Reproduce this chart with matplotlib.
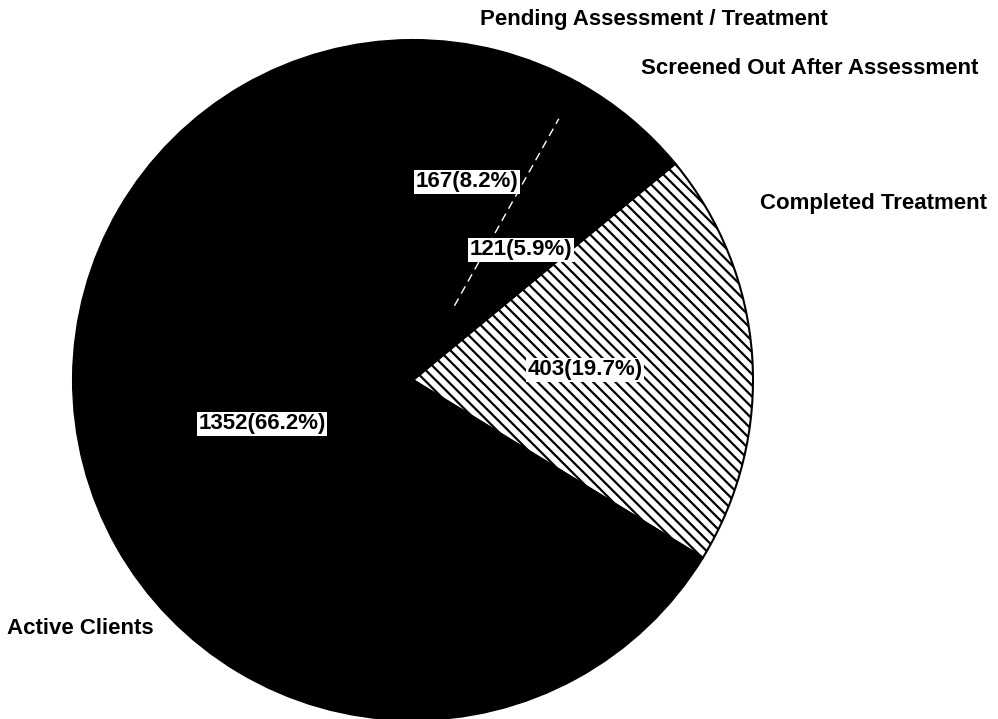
import matplotlib

matplotlib.use("Agg")
import matplotlib.pyplot as plt
import numpy as np

# slice order: counter-clockwise from the lower edge of "Completed Treatment"
categories = ["Completed Treatment", "Screened Out After Assessment",
              "Pending Assessment / Treatment", "Active Clients"]
counts = [403, 121, 167, 1352]
pcts = [19.7, 5.9, 8.2, 66.2]

W, H = 998, 719
BS = chr(92)  # backslash, for the hatch pattern


def fx(px):
    return px / W


def fy(py):
    return 1 - py / H


plt.rcParams["hatch.linewidth"] = 1.6
plt.rcParams["font.family"] = ["Liberation Sans", "DejaVu Sans"]

fig = plt.figure(figsize=(W / 100, H / 100), dpi=100)
fig.patch.set_facecolor("white")

# pie occupies x 73..753, y 40..720 in pixels
ax = fig.add_axes([fx(73), fy(720), 680 / W, 680 / H])
wedges, _ = ax.pie(counts, startangle=-31.5, counterclock=True,
                   colors=["white", "black", "black", "black"],
                   wedgeprops=dict(edgecolor="black", linewidth=1.5))
wedges[0].set_hatch(BS * 3)

# faint white seam between "Screened Out" and "Pending" slices
th = np.deg2rad(wedges[2].theta1)
r = np.array([0.25, 0.88])
ax.plot(r * np.cos(th), r * np.sin(th), color="white", lw=1.0,
        ls=(0, (6, 4)))

ax.set_aspect("auto")
ax.set_xlim(-1, 1)
ax.set_ylim(-1, 1)
ax.axis("off")

# value labels inside the slices
box = dict(facecolor="white", edgecolor="none", pad=1.0)
inner_pos = [(585, 370), (521, 250), (467, 182), (262, 424)]
for (px, py), n, p in zip(inner_pos, counts, pcts):
    fig.text(fx(px), fy(py), f"{n}({p}%)", ha="center", va="center",
             fontsize=16, fontweight="bold", bbox=box)

# category labels outside
outer_pos = [(873, 203), (810, 68), (654, 19), (80, 628)]
for (px, py), name in zip(outer_pos, categories):
    fig.text(fx(px), fy(py), name, ha="center", va="center",
             fontsize=16, fontweight="bold")

fig.savefig("out.png", dpi=100)
